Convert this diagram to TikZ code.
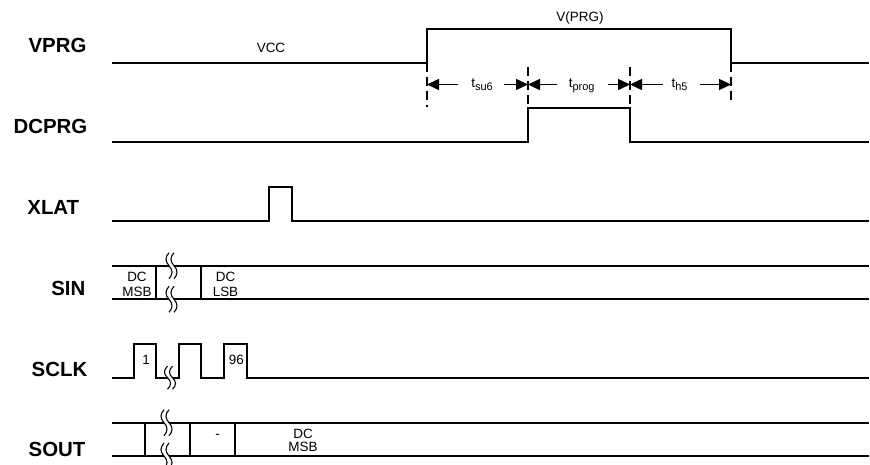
\documentclass[tikz,border=0pt]{standalone}
\usepackage{fontspec}
\setmainfont{Liberation Sans}
\usetikzlibrary{arrows.meta}
\newcommand\brkmark[3]{%
  \fill[white] ({#1-2.5},{#2-#3}) .. controls ({#1-6.5},{#2-#3*2/3}) and ({#1-6.5},{#2-#3/3}) .. ({#1-2.5},{#2}) .. controls ({#1+1.5},{#2+#3/3}) and ({#1+1.5},{#2+#3*2/3}) .. ({#1-2.5},{#2+#3}) -- ({#1+2.5},{#2+#3}) .. controls ({#1+6.5},{#2+#3*2/3}) and ({#1+6.5},{#2+#3/3}) .. ({#1+2.5},{#2}) .. controls ({#1-1.5},{#2-#3/3}) and ({#1-1.5},{#2-#3*2/3}) .. ({#1+2.5},{#2-#3}) -- cycle;
  \draw[brkline] ({#1-2.5},{#2-#3}) .. controls ({#1-6.5},{#2-#3*2/3}) and ({#1-6.5},{#2-#3/3}) .. ({#1-2.5},{#2}) .. controls ({#1+1.5},{#2+#3/3}) and ({#1+1.5},{#2+#3*2/3}) .. ({#1-2.5},{#2+#3});
  \draw[brkline] ({#1+2.5},{#2-#3}) .. controls ({#1-1.5},{#2-#3*2/3}) and ({#1-1.5},{#2-#3/3}) .. ({#1+2.5},{#2}) .. controls ({#1+6.5},{#2+#3/3}) and ({#1+6.5},{#2+#3*2/3}) .. ({#1+2.5},{#2+#3});
}
\newcommand\tsub[2]{t\raisebox{-3bp}{\fontsize{11}{11}\selectfont #1}}
\begin{document}
\begin{tikzpicture}[x=1bp,y=-1bp,
  sig/.style={line width=1.8bp, line join=miter},
  tickline/.style={line width=1.1bp, dash pattern=on 9bp off 5bp},
  dimarrow/.style={line width=1.5bp, -{Triangle[length=12bp,width=11bp]}},
  lbl/.style={font=\fontsize{20.5}{22}\bfseries\selectfont, anchor=base, inner sep=0pt},
  txt/.style={font=\fontsize{13.5}{15}\selectfont, anchor=base, inner sep=0pt},
  brkline/.style={line width=1.1bp}]
\useasboundingbox (0,0) rectangle (870,465);

% signal names
\node[lbl] (lvprg) at (57.5,53) {VPRG};
\node[lbl] (ldcprg) at (50.5,134) {DCPRG};
\node[lbl] (lxlat) at (53.3,214.3) {XLAT};
\node[lbl] (lsin) at (68.3,296) {SIN};
\node[lbl] (lsclk) at (59.5,376.7) {SCLK};
\node[lbl] (lsout) at (57,456.7) {SOUT};

% VPRG
\draw[sig] (112,62.7) -- (427,62.7) -- (427,29.3) -- (731,29.3) -- (731,62.7) -- (869,62.7);
\node[txt] (vcc) at (271,53) {VCC};
\node[txt] (vprgtxt) at (580,21.5) {V(PRG)};

% DCPRG
\draw[sig] (112,141.7) -- (528,141.7) -- (528,107.7) -- (630,107.7) -- (630,141.7) -- (869,141.7);

% timing marks
\draw[tickline] (427,62.7) -- (427,107);
\draw[tickline] (528,67) -- (528,107.7);
\draw[tickline] (630,67) -- (630,107.7);
\draw[tickline] (731,62.7) -- (731,103);
\draw[dimarrow] (458,84.5) -- (427,84.5);
\draw[dimarrow] (504,84.5) -- (528,84.5);
\draw[dimarrow] (557,84.5) -- (528,84.5);
\draw[dimarrow] (608,84.5) -- (630,84.5);
\draw[dimarrow] (663,84.5) -- (630,84.5);
\draw[dimarrow] (700,84.5) -- (731,84.5);
\node[txt] (tsu) at (482,88) {\tsub{su6}{}};
\node[txt] (tprog) at (581.7,88) {\tsub{prog}{}};
\node[txt] (th) at (679.5,88) {\tsub{h5}{}};

% XLAT
\draw[sig] (112,220.7) -- (269.3,220.7) -- (269.3,186.7) -- (292,186.7) -- (292,220.7) -- (869,220.7);

% SIN
\draw[sig] (112,265.7) -- (869,265.7);
\draw[sig] (112,299.3) -- (869,299.3);
\draw[sig] (156,265.7) -- (156,299.3);
\draw[sig] (201,265.7) -- (201,299.3);
\node[txt] (sindc1) at (137,281.7) {DC};
\node[txt] (sinmsb) at (137,296.7) {MSB};
\node[txt] (sindc2) at (225.5,281.7) {DC};
\node[txt] (sinlsb) at (225.5,296.7) {LSB};
\brkmark{171.5}{265.7}{13}
\brkmark{171.5}{299.3}{13}

% SCLK
\draw[sig] (112,377.7) -- (134.3,377.7) -- (134.3,344.3) -- (156,344.3) -- (156,377.7) -- (179,377.7) -- (179,344.3) -- (201,344.3) -- (201,377.7) -- (224,377.7) -- (224,344.3) -- (246.7,344.3) -- (246.7,377.7) -- (869,377.7);
\node[txt] (clk1) at (146.2,365) {1};
\node[txt] (clk96) at (236.3,365) {96};
\brkmark{170}{377.7}{11.5}

% SOUT
\draw[sig] (112,422.7) -- (869,422.7);
\draw[sig] (112,456) -- (869,456);
\draw[sig] (145,422.7) -- (145,456);
\draw[sig] (190,422.7) -- (190,456);
\draw[sig] (235,422.7) -- (235,456);
\node[txt, anchor=center] (dash) at (217.5,436.7) {-};
\node[txt] (soutdc) at (303,438.3) {DC};
\node[txt] (soutmsb) at (303,451.7) {MSB};
\brkmark{166.5}{422.7}{13}
\brkmark{166.5}{456}{13}
\end{tikzpicture}
\end{document}
